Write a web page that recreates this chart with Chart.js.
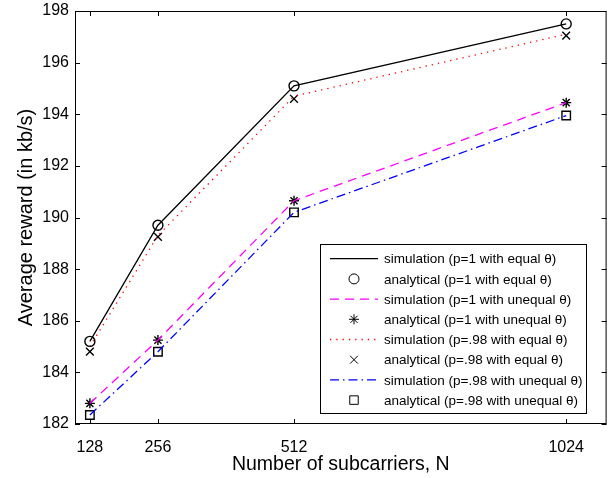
<!DOCTYPE html>
<html>
<head>
<meta charset="utf-8">
<script src="https://cdn.jsdelivr.net/npm/chart.js@4/dist/chart.umd.min.js"></script>
<style>
  html, body { margin: 0; padding: 0; background: #fff; }
  #wrap { width: 614px; height: 478px; }
</style>
</head>
<body>
<div id="wrap"><canvas id="myChart" width="614" height="478"></canvas></div>
<script>
// number of subcarriers
var subcarriers = [128, 256, 512, 1024];
var yTicks = [182, 184, 186, 188, 190, 192, 194, 196, 198];

// average reward (kb/s)
var simP1Equal     = [185.2, 189.7, 195.1, 197.5];
var anaP1Equal     = [185.2, 189.7, 195.1, 197.5];
var simP1Unequal   = [182.8, 185.25, 190.65, 194.45];
var anaP1Unequal   = [182.8, 185.25, 190.65, 194.45];
var simP98Equal    = [185.0, 189.3, 194.7, 197.1];
var anaP98Equal    = [184.8, 189.25, 194.6, 197.05];
var simP98Unequal  = [182.35, 184.8, 190.2, 193.95];
var anaP98Unequal  = [182.35, 184.8, 190.2, 193.95];

var FONT = '"Liberation Sans", Arial, sans-serif';

function pts(arr) {
    return subcarriers.map(function (n, i) { return { x: n, y: arr[i] }; });
}

function lineSet(label, arr, color, dash) {
    return {
        label: label, data: pts(arr), showLine: true,
        borderColor: color, backgroundColor: color, borderWidth: 1.3,
        borderDash: dash, pointRadius: 0, pointHoverRadius: 0, tension: 0
    };
}
function markSet(label, arr, style, r) {
    return {
        label: label, data: pts(arr), showLine: false,
        pointStyle: style, pointRadius: r, pointHoverRadius: r,
        pointBorderColor: '#000', pointBackgroundColor: 'rgba(0,0,0,0)',
        pointBorderWidth: 1.4, borderColor: '#000', backgroundColor: 'rgba(0,0,0,0)'
    };
}

// inward ticks + full box like MATLAB
var boxPlugin = {
    id: 'box',
    afterDatasetsDraw: function (chart) {
        var ctx = chart.ctx, a = chart.chartArea;
        var xs = chart.scales.x, ys = chart.scales.y;
        ctx.save();
        ctx.strokeStyle = '#000';
        ctx.lineWidth = 1;
        ctx.strokeRect(a.left + 0.5, a.top + 0.5, a.right - a.left - 1, a.bottom - a.top - 1);
        ctx.beginPath();
        subcarriers.forEach(function (v) {
            var px = Math.round(xs.getPixelForValue(v)) + 0.5;
            ctx.moveTo(px, a.bottom); ctx.lineTo(px, a.bottom - 5);
            ctx.moveTo(px, a.top); ctx.lineTo(px, a.top + 5);
        });
        yTicks.forEach(function (v) {
            var py = Math.round(ys.getPixelForValue(v)) + 0.5;
            ctx.moveTo(a.left, py); ctx.lineTo(a.left + 5, py);
            ctx.moveTo(a.right, py); ctx.lineTo(a.right - 5, py);
        });
        ctx.stroke();
        ctx.restore();
    },
    afterDraw: function (chart) {
        // legend box inside the plot
        var ctx = chart.ctx;
        var bx = 320, by = 244, bw = 266, bh = 169;
        ctx.save();
        ctx.fillStyle = '#fff';
        ctx.fillRect(bx, by, bw, bh);
        ctx.strokeStyle = '#000';
        ctx.lineWidth = 1;
        ctx.strokeRect(bx + 0.5, by + 0.5, bw, bh);
        ctx.font = '13.5px ' + FONT;
        ctx.textBaseline = 'middle';
        chart.data.datasets.forEach(function (ds, i) {
            var y = by + 14.7 + i * 20.2;
            if (ds.showLine) {
                ctx.save();
                ctx.strokeStyle = ds.borderColor;
                ctx.lineWidth = ds.borderWidth;
                ctx.setLineDash(ds.borderDash || []);
                ctx.beginPath();
                ctx.moveTo(bx + 10, y); ctx.lineTo(bx + 58, y);
                ctx.stroke();
                ctx.restore();
            } else {
                ctx.save();
                ctx.strokeStyle = '#000';
                ctx.fillStyle = 'rgba(0,0,0,0)';
                Chart.helpers.drawPoint(ctx, {
                    pointStyle: ds.pointStyle, radius: ds.pointRadius,
                    rotation: 0, borderWidth: ds.pointBorderWidth
                }, bx + 34, y);
                ctx.restore();
            }
            ctx.fillStyle = '#000';
            ctx.fillText(ds.label, bx + 64, y + 1);
        });
        ctx.restore();
    }
};

var ctx = document.getElementById('myChart').getContext('2d');
var myChart = new Chart(ctx, {
    type: 'scatter',
    data: {
        datasets: [
            lineSet('simulation (p=1 with equal \u03b8)', simP1Equal, '#000000', []),
            markSet('analytical (p=1 with equal \u03b8)', anaP1Equal, 'circle', 5),
            lineSet('simulation (p=1 with unequal \u03b8)', simP1Unequal, '#ff00ff', [9, 6]),
            markSet('analytical (p=1 with unequal \u03b8)', anaP1Unequal, 'star', 5),
            lineSet('simulation (p=.98 with equal \u03b8)', simP98Equal, '#ff0000', [1.3, 5]),
            markSet('analytical (p=.98 with equal \u03b8)', anaP98Equal, 'crossRot', 5.5),
            lineSet('simulation (p=.98 with unequal \u03b8)', simP98Unequal, '#0000ff', [9, 4, 1.5, 4]),
            markSet('analytical (p=.98 with unequal \u03b8)', anaP98Unequal, 'rect', 6)
        ]
    },
    options: {
        responsive: false,
        animation: false,
        layout: { padding: { top: 11, right: 7, left: 0, bottom: 0 } },
        scales: {
            x: {
                type: 'linear', min: 100, max: 1100,
                afterBuildTicks: function (scale) {
                    scale.ticks = subcarriers.map(function (v) { return { value: v }; });
                },
                afterFit: function (scale) {
                    scale.height = 54;
                    scale.paddingLeft = 0; scale.paddingRight = 0;
                },
                grid: { display: false, drawTicks: false },
                border: { display: false },
                ticks: {
                    color: '#000', padding: 14,
                    font: { family: FONT, size: 16 },
                    maxRotation: 0,
                    callback: function (v) { return String(v); }
                },
                title: {
                    display: true, text: 'Number of subcarriers, N', color: '#000',
                    font: { family: FONT, size: 19.5 },
                    padding: { top: 0, bottom: 2 }
                }
            },
            y: {
                min: 182, max: 198,
                afterBuildTicks: function (scale) {
                    scale.ticks = yTicks.map(function (v) { return { value: v }; });
                },
                afterFit: function (scale) {
                    scale.width = 75;
                    scale.paddingTop = 0; scale.paddingBottom = 0;
                },
                grid: { display: false, drawTicks: false },
                border: { display: false },
                ticks: {
                    color: '#000', padding: 6,
                    font: { family: FONT, size: 16 },
                    callback: function (v) { return String(v); }
                },
                title: {
                    display: true, text: 'Average reward (in kb/s)', color: '#000',
                    font: { family: FONT, size: 20 },
                    padding: { top: 14, bottom: 0 }
                }
            }
        },
        plugins: {
            legend: { display: false },
            tooltip: { enabled: false }
        }
    },
    plugins: [boxPlugin]
});
</script>
</body>
</html>
